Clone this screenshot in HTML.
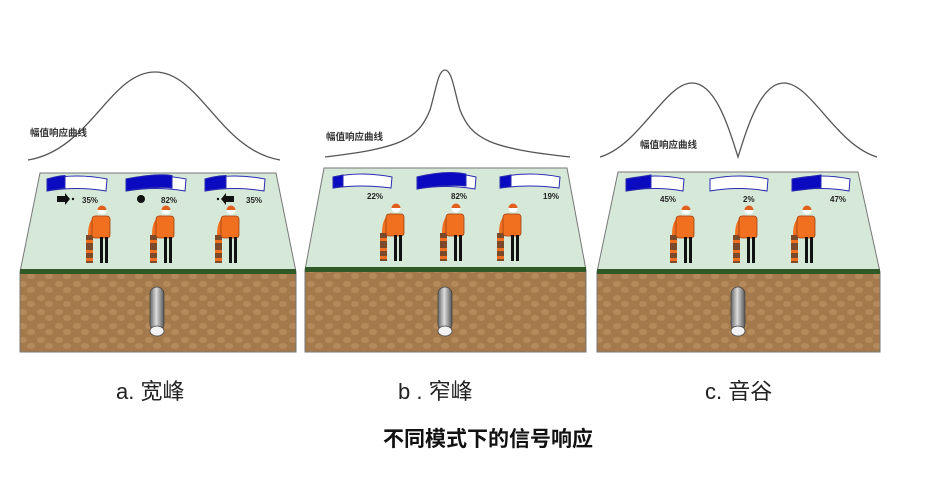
<!DOCTYPE html>
<html><head><meta charset="utf-8"><style>
html,body{margin:0;padding:0;background:#fff;width:940px;height:486px;overflow:hidden}
svg{display:block}
text{font-family:"Liberation Sans","Noto Sans CJK SC",sans-serif}
</style></head><body>
<svg width="940" height="486" viewBox="0 0 940 486" xmlns="http://www.w3.org/2000/svg">
<defs>
<pattern id="soil" width="18" height="14" patternUnits="userSpaceOnUse">
<rect width="18" height="14" fill="#a47a4c"/>
<ellipse cx="5" cy="4" rx="4" ry="3" fill="#b58a5a"/>
<ellipse cx="13" cy="10" rx="4" ry="3" fill="#b58a5a"/>
</pattern>
<linearGradient id="pipe" x1="0" x2="1">
<stop offset="0" stop-color="#666"/><stop offset="0.45" stop-color="#ddd"/><stop offset="1" stop-color="#555"/>
</linearGradient>
<g id="man">
<rect x="-16" y="25" width="7" height="28" fill="#7a4a2a"/>
<rect x="-16" y="30" width="7" height="3" fill="#f07020"/>
<rect x="-16" y="40" width="7" height="3" fill="#f07020"/>
<rect x="-16" y="48" width="7" height="3" fill="#f07020"/>
<path d="M-12,25 Q-12,10 -4,7" stroke="#f07020" stroke-width="4" fill="none"/>
<rect x="-10" y="6" width="18" height="22" rx="3" fill="#f07020" stroke="#a04010" stroke-width="0.8"/>
<rect x="-2" y="27" width="3" height="26" fill="#111"/>
<rect x="3" y="27" width="3" height="26" fill="#111"/>
<circle cx="0" cy="0" r="4.5" fill="#fff"/>
<path d="M-4.5,0 A4.5,4.5 0 0 1 4.5,0 Z" fill="#e06020"/>
</g>
</defs>

<path d="M28,160 C90,150 110,72 155,72 C200,72 220,150 280,160" stroke="#555" stroke-width="1.3" fill="none"/>
<path d="M325,157 C400,148 418,140 430,110 C436,90 438,70 445,70 C452,70 454,90 460,110 C472,140 490,148 570,157" stroke="#555" stroke-width="1.3" fill="none"/>
<path d="M600,157 C640,145 665,83 692,83 C715,83 728,125 738,157 C748,125 761,83 784,83 C811,83 836,145 877,157" stroke="#555" stroke-width="1.3" fill="none"/>
<text x="30" y="136" font-size="9.5" font-weight="bold" fill="#333">幅值响应曲线</text>
<text x="326" y="140" font-size="9.5" font-weight="bold" fill="#333">幅值响应曲线</text>
<text x="640" y="148" font-size="9.5" font-weight="bold" fill="#333">幅值响应曲线</text>

<polygon points="40,173 276,173 296,272 20,272" fill="#d6e9d8" stroke="#777" stroke-width="1"/>
<rect x="20" y="272" width="276" height="80" fill="url(#soil)" stroke="#777" stroke-width="1"/>
<rect x="20" y="269" width="276" height="5" fill="#2f5a28"/>
<polygon points="324,168 567,168 586,270 305,270" fill="#d6e9d8" stroke="#777" stroke-width="1"/>
<rect x="305" y="270" width="281" height="82" fill="url(#soil)" stroke="#777" stroke-width="1"/>
<rect x="305" y="267" width="281" height="5" fill="#2f5a28"/>
<polygon points="618,172 858,172 880,272 597,272" fill="#d6e9d8" stroke="#777" stroke-width="1"/>
<rect x="597" y="272" width="283" height="80" fill="url(#soil)" stroke="#777" stroke-width="1"/>
<rect x="597" y="269" width="283" height="5" fill="#2f5a28"/>

<g>
<rect x="150" y="287" width="14" height="44" rx="7" fill="url(#pipe)" stroke="#444" stroke-width="0.8"/>
<ellipse cx="157" cy="331" rx="7" ry="5" fill="#f2f2f2" stroke="#444" stroke-width="0.8"/>
<rect x="438" y="287" width="14" height="44" rx="7" fill="url(#pipe)" stroke="#444" stroke-width="0.8"/>
<ellipse cx="445" cy="331" rx="7" ry="5" fill="#f2f2f2" stroke="#444" stroke-width="0.8"/>
<rect x="731" y="287" width="14" height="44" rx="7" fill="url(#pipe)" stroke="#444" stroke-width="0.8"/>
<ellipse cx="738" cy="331" rx="7" ry="5" fill="#f2f2f2" stroke="#444" stroke-width="0.8"/>
</g>

<g stroke="#2a2ab0" stroke-width="1">
<path d="M47,179 Q77,173 107,179 L106,191 Q77,186 47,191 Z" fill="#fff"/>
<path d="M47,179 Q57,176 65,175.5 L65,188 Q57,189 47,191 Z" fill="#0a0ac0"/>
<path d="M126,179 Q156,173 186,179 L185,191 Q156,186 126,191 Z" fill="#fff"/>
<path d="M126,179 Q156,173 172,175.5 L172,188 Q156,186 126,191 Z" fill="#0a0ac0"/>
<path d="M205,179 Q235,173 265,179 L264,191 Q235,186 205,191 Z" fill="#fff"/>
<path d="M205,179 Q215,176 226,175.5 L226,188 Q215,189 205,191 Z" fill="#0a0ac0"/>
</g>
<g fill="#111"><rect x="57" y="196" width="8" height="6"/><polygon points="65,193 70,199 65,205"/><circle cx="73" cy="199" r="1.2"/>
<circle cx="141" cy="199" r="4"/>
<rect x="226" y="196" width="8" height="6"/><polygon points="226,193 221,199 226,205"/><circle cx="218" cy="199" r="1.2"/></g>
<g font-size="8" font-weight="bold" fill="#222"><text x="82" y="203">35%</text><text x="161" y="203">82%</text><text x="246" y="203">35%</text></g>

<g stroke="#2a2ab0" stroke-width="1">
<path d="M333,177 Q362,171 392,177 L391,188 Q362,184 333,188 Z" fill="#fff"/>
<path d="M333,177 L343,175 L343,186.5 L333,188 Z" fill="#0a0ac0"/>
<path d="M417,177 Q446,170 476,177 L475,189 Q446,184 417,189 Z" fill="#fff"/>
<path d="M417,177 Q446,170 466,174 L466,186 Q446,184 417,189 Z" fill="#0a0ac0"/>
<path d="M500,177 Q530,171 560,177 L559,188 Q530,184 500,188 Z" fill="#fff"/>
<path d="M500,177 L511,175 L511,186.5 L500,188 Z" fill="#0a0ac0"/>
</g>
<g font-size="8" font-weight="bold" fill="#222"><text x="367" y="199">22%</text><text x="451" y="199">82%</text><text x="543" y="199">19%</text></g>

<g stroke="#2a2ab0" stroke-width="1">
<path d="M626,179 Q655,173 684,179 L683,191 Q655,186 626,191 Z" fill="#fff"/>
<path d="M626,179 L651,175 L651,187.5 L626,191 Z" fill="#0a0ac0"/>
<path d="M710,179 Q739,173 768,179 L767,191 Q739,186 710,191 Z" fill="#fff"/>
<path d="M792,179 Q821,173 850,179 L849,191 Q821,186 792,191 Z" fill="#fff"/>
<path d="M792,179 L821,175 L821,187.5 L792,191 Z" fill="#0a0ac0"/>
</g>
<g font-size="8" font-weight="bold" fill="#222"><text x="660" y="202">45%</text><text x="743" y="202">2%</text><text x="830" y="202">47%</text></g>

<use href="#man" x="102" y="210"/><use href="#man" x="166" y="210"/><use href="#man" x="231" y="210"/>
<use href="#man" x="396" y="208"/><use href="#man" x="456" y="208"/><use href="#man" x="513" y="208"/>
<use href="#man" x="686" y="210"/><use href="#man" x="749" y="210"/><use href="#man" x="807" y="210"/>

<g font-size="22" fill="#222"><text x="116" y="399">a.  宽峰</text><text x="398" y="399">b . 窄峰</text><text x="705" y="399">c.  音谷</text></g>
<text x="488" y="446" font-size="21" font-weight="bold" fill="#111" text-anchor="middle">不同模式下的信号响应</text>
</svg>
</body></html>
